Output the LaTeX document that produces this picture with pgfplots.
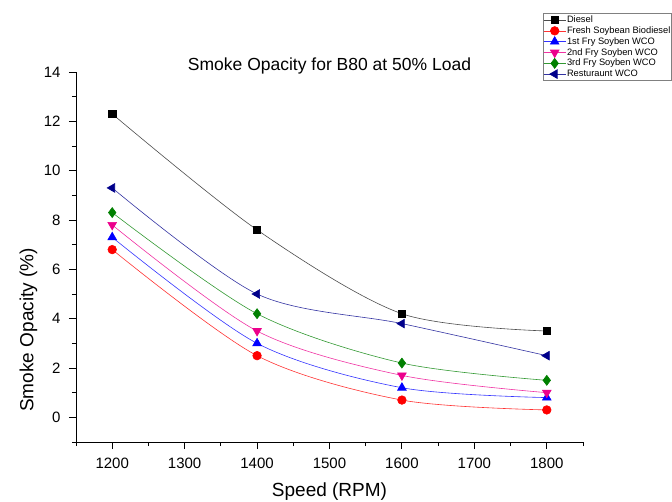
\documentclass[border=0pt]{standalone}
\usepackage{pgfplots}
\pgfplotsset{compat=1.18}
\usepackage{fontspec}
\setmainfont{Liberation Sans}
\definecolor{navyc}{RGB}{0,0,139}
\definecolor{greenc}{RGB}{0,128,0}
\begin{document}
\begin{tikzpicture}
\path[use as bounding box] (-76pt,-59pt) rectangle (596pt,442pt);
\begin{axis}[
  at={(0,0)}, anchor=south west,
  scale only axis, width=507pt, height=370pt,
  xmin=1150, xmax=1850, ymin=-1, ymax=14,
  axis lines*=left,
  axis line style={line width=0.9pt},
  xtick={1200,1300,...,1800},
  minor xtick={1150,1250,...,1850},
  ytick={0,2,...,14},
  minor ytick={-1,1,...,13},
  tick align=outside,
  major tick length=7pt, minor tick length=4pt,
  tick style={line width=0.9pt, black},
  /pgf/number format/assume math mode=true,
  /pgf/number format/1000 sep={},
  tick label style={font=\fontsize{15}{17}\selectfont},
  xticklabel style={yshift=-5pt},
  yticklabel style={xshift=-5pt},
  title={Smoke Opacity for B80 at 50\% Load},
  title style={at={(axis description cs:0.5,1)}, anchor=base, yshift=-5pt, font=\fontsize{17.5}{19}\selectfont},
  xlabel={Speed (RPM)},
  xlabel style={at={(axis description cs:0.5,-0.148)}, anchor=base, font=\fontsize{19}{21}\selectfont},
  ylabel={Smoke Opacity (\%)},
  ylabel style={at={(axis description cs:-0.094,0.303)}, anchor=center, rotate=0, font=\fontsize{19}{21}\selectfont},
  every axis plot/.append style={line width=0.6pt},
  legend style={at={(467pt,429pt)}, anchor=north west, draw=gray, line width=0.8pt,
    font=\fontsize{9.3}{10}\selectfont, inner xsep=0pt, inner ysep=1.5pt,
    nodes={inner sep=1pt}, row sep=0.6pt},
  legend cell align=left,
  legend image code/.code={\draw[mark repeat=2,mark phase=2] plot coordinates {(0pt,0pt) (11pt,0pt) (22pt,0pt)};},
]
\addplot[smooth, tension=0.5, color=black!70, mark=square*, mark options={black, fill=black}, mark size=3.6pt]
  coordinates {(1200,12.3) (1400,7.6) (1600,4.2) (1800,3.5)};
\addlegendentry{Diesel}
\addplot[smooth, tension=0.5, color=red!80, mark=*, mark options={red, fill=red}, mark size=4.3pt]
  coordinates {(1200,6.8) (1400,2.5) (1600,0.7) (1800,0.3)};
\addlegendentry{Fresh Soybean Biodiesel}
\addplot[smooth, tension=0.5, color=blue!80, mark=triangle*, mark options={blue, fill=blue}, mark size=5pt]
  coordinates {(1200,7.3) (1400,3.0) (1600,1.2) (1800,0.8)};
\addlegendentry{1st Fry Soyben WCO}
\addplot[smooth, tension=0.5, color=magenta!80, mark=triangle*, mark options={magenta, fill=magenta, rotate=180}, mark size=5pt]
  coordinates {(1200,7.8) (1400,3.5) (1600,1.7) (1800,1.0)};
\addlegendentry{2nd Fry Soyben WCO}
\addplot[smooth, tension=0.5, color=greenc!80, mark=diamond*, mark options={greenc, fill=greenc}, mark size=5pt]
  coordinates {(1200,8.3) (1400,4.2) (1600,2.2) (1800,1.5)};
\addlegendentry{3rd Fry Soyben WCO}
\addplot[smooth, tension=0.5, color=navyc!80, mark=triangle*, mark options={navyc, fill=navyc, rotate=90}, mark size=5pt]
  coordinates {(1200,9.3) (1400,5.0) (1600,3.8) (1800,2.5)};
\addlegendentry{Resturaunt WCO}
\end{axis}
\end{tikzpicture}
\end{document}
